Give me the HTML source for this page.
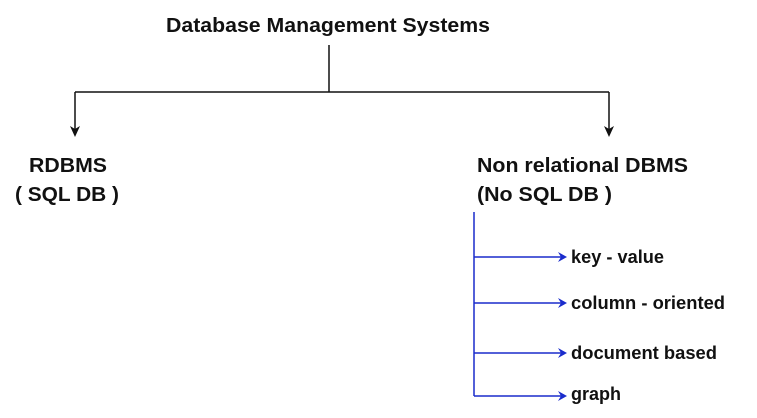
<!DOCTYPE html>
<html><head><meta charset="utf-8"><style>html,body{margin:0;padding:0;background:#fff}svg{display:block}</style></head>
<body>
<svg width="757" height="418" viewBox="0 0 757 418" xmlns="http://www.w3.org/2000/svg" font-family="Liberation Sans, sans-serif" font-weight="bold" fill="#111">
<text x="166" y="32" font-size="20" textLength="324" lengthAdjust="spacingAndGlyphs">Database Management Systems</text>
<g stroke="#111" stroke-width="1.5" fill="none">
<line x1="329" y1="45" x2="329" y2="92"/>
<line x1="75" y1="92" x2="609" y2="92"/>
<line x1="75" y1="92" x2="75" y2="130"/>
<line x1="609" y1="92" x2="609" y2="130"/>
</g>
<path d="M70,126 L75,137 L80,126 L75,129 Z" fill="#111"/>
<path d="M604,126 L609,137 L614,126 L609,129 Z" fill="#111"/>
<text x="29" y="172" font-size="20" textLength="78" lengthAdjust="spacingAndGlyphs">RDBMS</text>
<text x="15" y="201" font-size="20" textLength="104" lengthAdjust="spacingAndGlyphs">( SQL DB )</text>
<text x="477" y="172" font-size="20" textLength="211" lengthAdjust="spacingAndGlyphs">Non relational DBMS</text>
<text x="477" y="201" font-size="20" textLength="135" lengthAdjust="spacingAndGlyphs">(No SQL DB )</text>
<g stroke="#1a2ccc" stroke-width="1.5" fill="none">
<line x1="474" y1="212" x2="474" y2="396"/>
<line x1="474" y1="257" x2="562" y2="257"/>
<line x1="474" y1="303" x2="562" y2="303"/>
<line x1="474" y1="353" x2="562" y2="353"/>
<line x1="474" y1="396" x2="562" y2="396"/>
</g>
<g fill="#1a2ccc">
<path d="M558,252 L567,257 L558,262 L561,257 Z"/>
<path d="M558,298 L567,303 L558,308 L561,303 Z"/>
<path d="M558,348 L567,353 L558,358 L561,353 Z"/>
<path d="M558,391 L567,396 L558,401 L561,396 Z"/>
</g>
<text x="571" y="263" font-size="18" textLength="93" lengthAdjust="spacingAndGlyphs">key - value</text>
<text x="571" y="309" font-size="18" textLength="154" lengthAdjust="spacingAndGlyphs">column - oriented</text>
<text x="571" y="359" font-size="18" textLength="146" lengthAdjust="spacingAndGlyphs">document based</text>
<text x="571" y="400" font-size="18" textLength="50" lengthAdjust="spacingAndGlyphs">graph</text>
</svg>
</body></html>
